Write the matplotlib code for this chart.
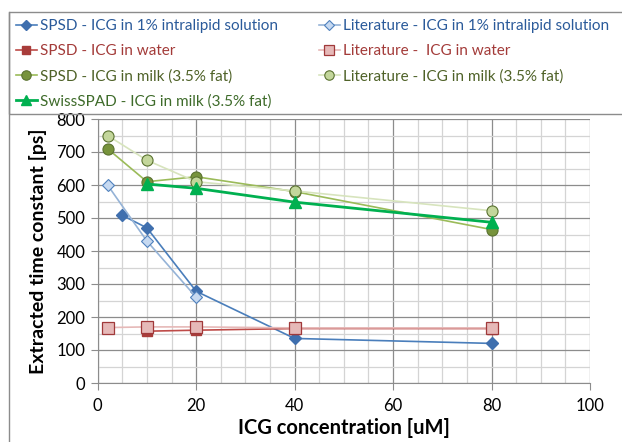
import matplotlib.pyplot as plt
from matplotlib.lines import Line2D
from matplotlib.patches import Rectangle
from matplotlib.ticker import MultipleLocator

plt.rcParams['font.family'] = ['Lato', 'DejaVu Sans']

# ICG concentration [uM] and extracted time constant [ps] per series
x_spsd_lipid = [5, 10, 20, 40, 80]
y_spsd_lipid = [508, 470, 278, 135, 120]
x_lit_lipid = [2, 10, 20]
y_lit_lipid = [600, 430, 260]

x_spsd_water = [10, 20, 40, 80]
y_spsd_water = [157, 160, 165, 165]
x_lit_water = [2, 10, 20, 40, 80]
y_lit_water = [168, 170, 170, 167, 167]

x_spsd_milk = [2, 10, 20, 40, 80]
y_spsd_milk = [710, 610, 625, 580, 465]
x_lit_milk = [2, 10, 20, 40, 80]
y_lit_milk = [750, 675, 610, 582, 522]

x_swiss = [10, 20, 40, 80]
y_swiss = [603, 590, 548, 487]

labels = ['SPSD - ICG in 1% intralipid solution',
          'Literature - ICG in 1% intralipid solution',
          'SPSD - ICG in water',
          'Literature -  ICG in water',
          'SPSD - ICG in milk (3.5% fat)',
          'Literature - ICG in milk (3.5% fat)',
          'SwissSPAD - ICG in milk (3.5% fat)']

fig = plt.figure(figsize=(6.22, 4.42), dpi=100)
ax = fig.add_axes([97.7/622, 1-383/442, (590-97.7)/622, (383-119)/442])

h1, = ax.plot(x_spsd_lipid, y_spsd_lipid, color='#4A7EBB', lw=1.2, marker='D', ms=6.5,
              mfc='#3F6FAE', mec='#3F6FAE', zorder=5)
h2, = ax.plot(x_lit_lipid, y_lit_lipid, color='#95B3D7', lw=1.2, marker='D', ms=6.5,
              mfc='#C6D9F1', mec='#4F81BD', mew=0.8, zorder=5)
h3, = ax.plot(x_spsd_water, y_spsd_water, color='#BE4B48', lw=1.2, marker='s', ms=7.5,
              mfc='#A83C3A', mec='#A83C3A', zorder=5)
h4, = ax.plot(x_lit_water, y_lit_water, color='#E6B9B8', lw=1.2, marker='s', ms=8,
              mfc='#E6B9B8', mec='#A0393A', mew=0.9, zorder=5)
h5, = ax.plot(x_spsd_milk, y_spsd_milk, color='#9BBB59', lw=1.2, marker='o', ms=8,
              mfc='#77933C', mec='#5A7230', mew=0.8, zorder=5)
h6, = ax.plot(x_lit_milk, y_lit_milk, color='#D7E4BD', lw=1.2, marker='o', ms=8,
              mfc='#C3D69B', mec='#5A7230', mew=0.8, zorder=5)
h7, = ax.plot(x_swiss, y_swiss, color='#00B050', lw=2, marker='^', ms=8,
              mfc='#00B050', mec='#00B050', zorder=6)

ax.set_xlim(0, 100)
ax.set_ylim(0, 800)
ax.xaxis.set_major_locator(MultipleLocator(20))
ax.xaxis.set_minor_locator(MultipleLocator(5))
ax.yaxis.set_major_locator(MultipleLocator(100))
ax.yaxis.set_minor_locator(MultipleLocator(50))
ax.grid(which='major', color='#8C8C8C', lw=0.9)
ax.grid(which='minor', color='#D4D4D4', lw=0.9)
ax.set_axisbelow(True)
ax.tick_params(which='major', direction='out', length=5, color='#8C8C8C',
               labelsize=12, pad=4)
ax.tick_params(which='minor', length=0)
ax.tick_params(axis='x', pad=6)
for s in ['top', 'right']:
    ax.spines[s].set_visible(False)
for s in ['left', 'bottom']:
    ax.spines[s].set_color('#8C8C8C')

ax.set_xlabel('ICG concentration [uM]', fontsize=14.5, fontweight='bold', labelpad=3)
ax.set_ylabel('Extracted time constant [ps]', fontsize=14, fontweight='bold', labelpad=7)

# legend box across the top of the chart
colors = ['#2A5A9A', '#2A5A9A', '#A33B39', '#A33B39', '#4F6228', '#4F6228', '#3E6B2A']
handles = [h1, h3, h5, h7, h2, h4, h6]
order_labels = [labels[0], labels[2], labels[4], labels[6], labels[1], labels[3], labels[5]]
order_colors = [colors[0], colors[2], colors[4], colors[6], colors[1], colors[3], colors[5]]
leg = fig.legend(handles, order_labels, ncol=2, loc='upper left',
                 bbox_to_anchor=(16/622, 1-19/442), borderaxespad=0, borderpad=0,
                 fontsize=11, frameon=False, handlelength=1.35,
                 handletextpad=0.2, labelspacing=0.72, columnspacing=2.7,
                 markerscale=0.85)
for t, c in zip(leg.get_texts(), order_colors):
    t.set_color(c)

fig.add_artist(Rectangle((9/622, 1-114/442), 1.0, (114-12)/442, transform=fig.transFigure,
                         fill=False, edgecolor='#8C8C8C', lw=1.0))

# outer chart border on the left
fig.add_artist(Line2D([9/622, 9/622], [0, 1-12/442], transform=fig.transFigure,
                      color='#8C8C8C', lw=1.0))

fig.savefig('out.png', dpi=100)
